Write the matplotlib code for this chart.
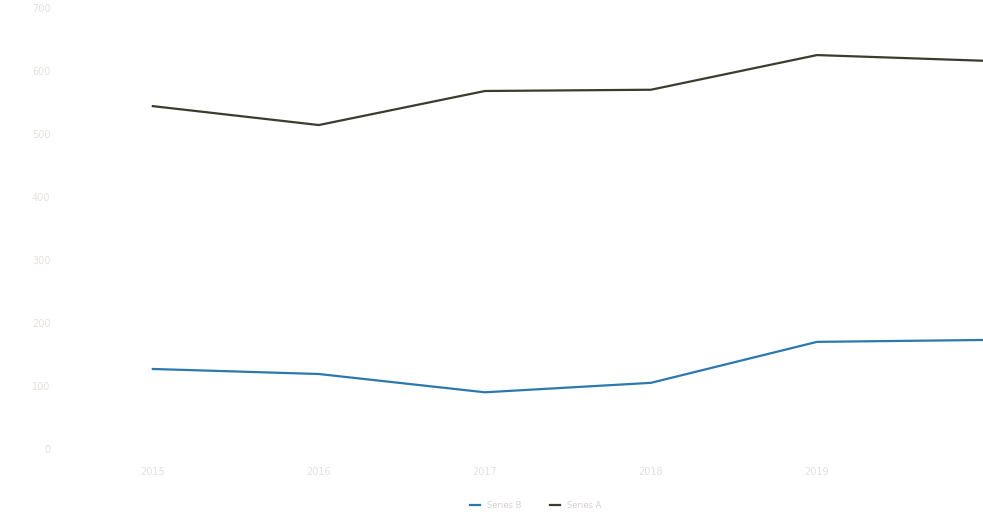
import numpy as np
import matplotlib.pyplot as plt

years = ['2015', '2016', '2017', '2018', '2019', '2020']
series_a = [544, 514, 568, 570, 625, 616]
series_b = [127, 119, 90, 105, 170, 173]
names = ['Series B', 'Series A']
yticks = [0, 100, 200, 300, 400, 500, 600, 700]

fig = plt.figure(figsize=(9.83, 5.2), dpi=100)
ax = fig.add_axes([0.071, 0.1365, 0.929, 0.8485])

x = np.arange(len(years))
ax.plot(x, series_b, color='#2b78b0', linewidth=1.6, label=names[0])
ax.plot(x, series_a, color='#3b3d2c', linewidth=1.6, label=names[1])

ax.set_xlim(-0.5, 5)
ax.set_ylim(0, 700)
ax.set_xticks(x[:5])
ax.set_xticklabels(years[:5])
ax.set_yticks(yticks)
ax.set_yticklabels([f'{v:,}' for v in yticks])
ax.tick_params(length=0, colors='#e6e0dc', labelsize=7)
ax.tick_params(axis='x', pad=13)
ax.tick_params(axis='y', pad=14)
for s in ax.spines.values():
    s.set_visible(False)

ax.legend(loc='upper center', bbox_to_anchor=(0.51, -0.1), ncol=2, frameon=False,
          fontsize=6, labelcolor='#d8d0d0', handlelength=1.2, columnspacing=3.5)

plt.savefig('out.png')
